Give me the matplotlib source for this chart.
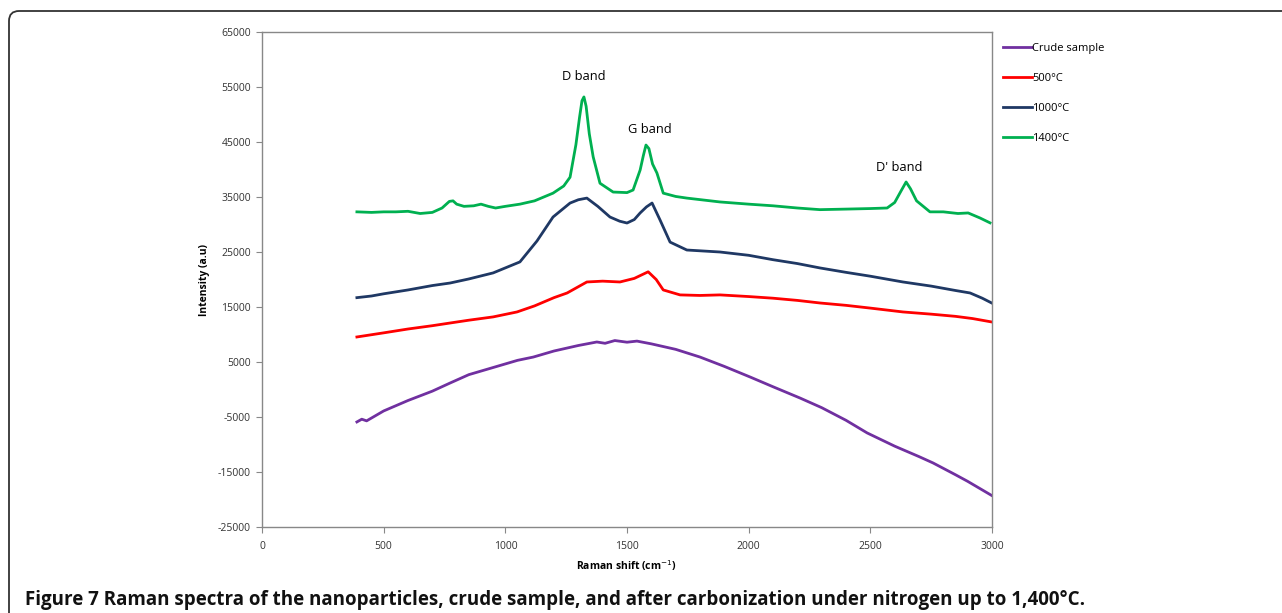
import numpy as np
import matplotlib
matplotlib.use('Agg')
import matplotlib.pyplot as plt
from matplotlib.patches import FancyBboxPatch
from matplotlib.transforms import IdentityTransform

# Raman spectra, values
crude_x = [390, 410, 430, 500, 600, 700, 773, 850, 950, 1050, 1115, 1200, 1300, 1376, 1410,
           1450, 1500, 1541, 1600, 1700, 1800, 1900, 2006, 2100, 2211, 2300, 2400, 2487, 2600,
           2700, 2758, 2850, 2900, 3000]
crude_y = [-5900, -5400, -5700, -3900, -2000, -300, 1180, 2700, 4000, 5300, 5900, 7000, 8000,
           8640, 8400, 8900, 8600, 8800, 8300, 7300, 5900, 4200, 2270, 500, -1550, -3300, -5600,
           -7900, -10300, -12200, -13360, -15500, -16700, -19300]

c500_x = [390, 500, 600, 700, 773, 850, 950, 1048, 1120, 1200, 1254, 1335, 1400, 1471, 1530,
          1587, 1620, 1649, 1718, 1800, 1882, 2000, 2100, 2200, 2293, 2400, 2500, 2634, 2750,
          2850, 2920, 3000]
c500_y = [9550, 10300, 11000, 11600, 12090, 12600, 13200, 14100, 15200, 16700, 17550, 19550, 19700,
          19550, 20200, 21400, 20000, 18100, 17200, 17100, 17200, 16900, 16600, 16200, 15730, 15300,
          14800, 14100, 13700, 13300, 12900, 12270]

c1000_x = [390, 450, 500, 600, 700, 773, 850, 950, 1060, 1130, 1196, 1266, 1300, 1335, 1380,
           1430, 1470, 1500, 1530, 1554, 1580, 1603, 1636, 1677, 1746, 1882, 2000, 2100, 2200,
           2293, 2400, 2500, 2634, 2750, 2850, 2910, 2960, 3000]
c1000_y = [16700, 17000, 17400, 18100, 18900, 19360, 20100, 21200, 23200, 27000, 31360, 33900,
           34500, 34800, 33300, 31360, 30600, 30270, 30900, 32100, 33200, 33900, 30800, 26800,
           25360, 25000, 24400, 23600, 22900, 22100, 21300, 20600, 19550, 18800, 18000, 17550,
           16600, 15700]

c1400_x = [390, 450, 500, 550, 600, 650, 700, 740, 770, 785, 800, 830, 870, 900, 930, 960,
           1000, 1060, 1120, 1196, 1240, 1266, 1290, 1305, 1315, 1323, 1332, 1345, 1361, 1389,
           1443, 1500, 1525, 1554, 1567, 1578, 1590, 1605, 1623, 1649, 1700, 1746, 1882, 2000,
           2100, 2200, 2293, 2400, 2500, 2569, 2600, 2625, 2647, 2665, 2690, 2745, 2800, 2860,
           2902, 2950, 2992]
c1400_y = [32300, 32200, 32300, 32300, 32400, 32000, 32200, 33000, 34200, 34300, 33700, 33300,
           33400, 33700, 33300, 33000, 33300, 33700, 34300, 35700, 37000, 38600, 44500, 49500,
           52500, 53200, 51500, 46500, 42300, 37500, 35900, 35800, 36270, 39900, 42500, 44450,
           43800, 41000, 39360, 35700, 35100, 34800, 34100, 33700, 33400, 33000, 32700, 32800,
           32900, 33000, 34000, 36000, 37730, 36500, 34300, 32300, 32300, 32000, 32100, 31200,
           30300]

series = [
    ('Crude sample', crude_x, crude_y, '#7030a0'),
    ('500\u00b0C', c500_x, c500_y, '#ff0000'),
    ('1000\u00b0C', c1000_x, c1000_y, '#1f3864'),
    ('1400\u00b0C', c1400_x, c1400_y, '#00b050'),
]

plt.rcParams['font.family'] = ['Open Sans', 'DejaVu Sans']
plt.rcParams['axes.unicode_minus'] = False

fig = plt.figure(figsize=(12.82, 6.13), dpi=100)
ax = fig.add_axes([262/1282, 86/613, 730/1282, 495/613])

for name, xs, ys, col in series:
    ax.plot(xs, ys, color=col, lw=2.0, label=name)

ax.set_xlim(0, 3000)
ax.set_ylim(-25000, 65000)
ax.set_xticks(np.arange(0, 3001, 500))
ax.set_yticks(np.arange(-25000, 65001, 10000))
ax.tick_params(direction='out', length=4, width=0.8, color='#888888',
               labelsize=7.5, labelcolor='#333333', pad=4)
ax.tick_params(axis='x', pad=6)
for s in ax.spines.values():
    s.set_color('#888888')
    s.set_linewidth(1.0)

ax.set_xlabel('Raman shift (cm$^{-1}$)', fontsize=7.5, fontweight='bold')
ax.set_ylabel('Intensity (a.u)', fontsize=7.5, fontweight='bold')
ax.xaxis.set_label_coords(0.4986, -0.064)
ax.yaxis.set_label_coords(-0.071, 0.5)

ax.text(1323, 57000, 'D band', ha='center', va='center', fontsize=9.3)
ax.text(1595, 47360, 'G band', ha='center', va='center', fontsize=9.3)
ax.text(2618, 40450, "D' band", ha='center', va='center', fontsize=9.3)

leg = ax.legend(loc='upper left', bbox_to_anchor=(1003/1282, (613-43)/613),
                bbox_transform=fig.transFigure, frameon=False, fontsize=8,
                handlelength=2.6, handletextpad=0.0, labelspacing=1.7,
                borderpad=0, borderaxespad=0)

fig.text(25/1282, 8/613, 'Figure 7 Raman spectra of the nanoparticles, crude sample, and after '
         'carbonization under nitrogen up to 1,400\u00b0C.',
         fontsize=13.5, fontweight='bold', color='#111111', va='baseline')

frame = FancyBboxPatch((9, -60), 1400, 613 - 11 + 60,
                       boxstyle='round,pad=0,rounding_size=10',
                       transform=IdentityTransform(), fill=False,
                       edgecolor='#333333', lw=1.3)
fig.patches.append(frame)

fig.savefig('out.png', dpi=100)
